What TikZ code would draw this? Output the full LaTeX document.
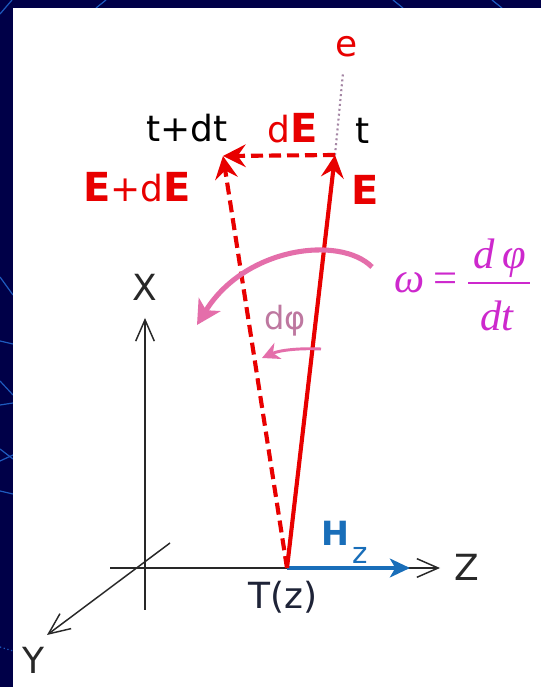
\documentclass[tikz,border=0pt]{standalone}
\usepackage{fontspec}
\setmainfont{DejaVu Sans}
\newfontfamily\tmsfont{Liberation Serif}
\usetikzlibrary{arrows.meta}
\definecolor{navybg}{RGB}{0,0,72}
\definecolor{bgline}{RGB}{30,90,190}
\definecolor{vred}{RGB}{232,0,0}
\definecolor{arcpink}{RGB}{228,110,170}
\definecolor{dphic}{RGB}{190,120,160}
\definecolor{omegac}{RGB}{205,40,205}
\definecolor{hblue}{RGB}{25,110,185}
\definecolor{axisc}{RGB}{40,40,40}
\definecolor{tzc}{RGB}{30,35,55}
\definecolor{dotc}{RGB}{165,135,165}
\newcommand\boldE{{\fontsize{30}{32}\selectfont\bfseries E}}
\begin{document}
\begin{tikzpicture}[x=0.75pt,y=0.75pt,
  lbl/.style={inner sep=0pt, font=\fontsize{27}{30}\selectfont},
  omlbl/.style={inner sep=0pt, text=omegac, font=\tmsfont\itshape\fontsize{32}{34}\selectfont},
  axisline/.style={draw=axisc, line width=1.1pt},
  axhead/.style={-{Straight Barb[length=16pt,width=14pt,line width=1.1pt]}},
  vecsolid/.style={draw=vred, line width=3.1pt, -{Stealth[length=17pt,width=17pt,inset=6pt]}},
  vecdash/.style={draw=vred, line width=3.1pt, dash pattern=on 9pt off 4.5pt, -{Stealth[length=17pt,width=17pt,inset=6pt]}},
  bgl/.style={draw=bgline, line width=0.9pt}
]
\useasboundingbox (0,0) rectangle (541,687);
\fill[navybg] (0,0) rectangle (541,687);
% background decorative lines
\draw[bgl] (0,673) -- (12,687);
\draw[bgl] (96,679) -- (106,687);
\draw[bgl] (393,687) -- (403,679);
\draw[bgl] (492,687) -- (502,679);
\draw[bgl] (0,410) -- (13,392);
\draw[bgl] (0,346) -- (13,343);
\draw[bgl] (0,306) -- (13,292);
\draw[bgl] (0,282) -- (13,284);
\draw[bgl] (0,238) -- (13,228);
\draw[bgl] (0,226) -- (13,232);
\draw[bgl] (0,196) -- (13,193);
\draw[bgl, dotted] (0,40) -- (13,36);
% white panel
\fill[white] (13,0) rectangle (541,679);

% key points
\coordinate (O) at (145,119);
\coordinate (Xbot) at (145,77);
\coordinate (Xtop) at (145,369);
\coordinate (Zleft) at (110,119);
\coordinate (Ztip) at (440,119);
\coordinate (Yup) at (170,144);
\coordinate (Ytip) at (47,52);
\coordinate (T) at (287,119);
\coordinate (Htip) at (410,119);
\coordinate (Etip) at (335,532);
\coordinate (EdEtip) at (223,531);
\coordinate (etop) at (343,614);
\coordinate (arcA) at (372,420);
\coordinate (arcB) at (197,362);
\coordinate (smA) at (321,338);
\coordinate (smB) at (262,329);

% axes
\draw[axisline] (Xbot) -- (O);
\draw[axisline, axhead] (O) -- (Xtop);
\draw[axisline, axhead] (Zleft) -- (Ztip);
\draw[axisline, axhead] (Yup) -- (Ytip);

% H_z
\draw[draw=hblue, line width=3.6pt, -{Stealth[length=15pt,width=14pt,inset=4pt]}] (T) -- (Htip);

% dotted direction line
\draw[draw=dotc, line width=1.6pt, dash pattern=on 1.5pt off 2.2pt] (Etip) -- (etop);

% vectors
\draw[vecdash] (T) -- (EdEtip);
\draw[vecsolid] (T) -- (Etip);
\draw[vecdash] (Etip) -- (EdEtip);

% rotation arcs
\draw[draw=arcpink, line width=3.8pt, -{Stealth[length=18pt,width=19pt,inset=5pt]}]
  (arcA) .. controls (340,452) and (245,440) .. (arcB);
\draw[draw=arcpink, line width=2.2pt, -{Stealth[length=13pt,width=13pt,inset=4pt]}]
  (smA) .. controls (300,339) and (280,337) .. (smB);

% labels
\node[lbl, text=axisc] (Xl) at (145,400) {X};
\node[lbl, text=axisc] (Yl) at (33,27) {Y};
\node[lbl, text=axisc] (Zl) at (467,120) {Z};
\node[lbl, text=tzc] (Tz) at (283,90) {T(z)};
\node[inner sep=0pt, text=hblue, font=\fontsize{25}{28}\selectfont\bfseries] (Hl) at (335,154) {H};
\node[inner sep=0pt, text=hblue, font=\fontsize{22}{24}\selectfont] (Hs) at (360,132) {z};
\node[lbl] (tdt) at (187,559) {t+dt};
\node[lbl, text=vred] (dEl) at (293,559) {d\boldE};
\node[lbl] (tl) at (363,556) {t};
\node[lbl, text=vred] (El) at (365,497) {\boldE};
\node[lbl, text=vred] (EdEl) at (137,500) {\boldE+d\boldE};
\node[lbl, text=vred] (el) at (347,640) {e};
\node[inner sep=0pt, text=dphic, font=\fontsize{24}{26}\selectfont] (dphi) at (285,366) {dφ};

% omega = dphi/dt
\node[omlbl] (om) at (410,404) {ω};
\node[omlbl, font=\tmsfont\fontsize{32}{34}\selectfont] (eq) at (446,404) {=};
\coordinate (barL) at (468,404);
\coordinate (barR) at (530,404);
\draw[draw=omegac, line width=1.4pt] (barL) -- (barR);
\node[omlbl] (num) at (500,429) {d\,φ};
\node[omlbl] (den) at (497,371) {dt};
\end{tikzpicture}
\end{document}
